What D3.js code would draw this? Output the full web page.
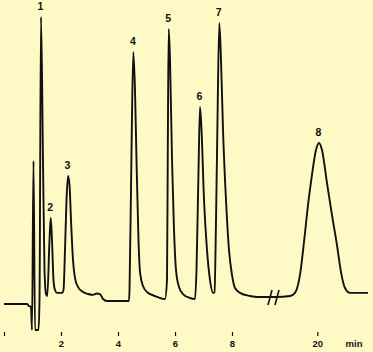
<!DOCTYPE html>
<html>
<head>
<meta charset="utf-8">
<script src="https://cdn.jsdelivr.net/npm/d3@7"></script>
<style>
  html, body { margin: 0; padding: 0; background: #fff9c6; }
  svg { display: block; }
  .axis text { font-family: "Liberation Sans", Arial, sans-serif; font-weight: bold; font-size: 9.5px; fill: #111; }
  .axis line { stroke: #111; stroke-width: 1.2; }
  .peak-label { font-family: "Liberation Sans", Arial, sans-serif; font-weight: bold; font-size: 10.5px; fill: #111; }
</style>
</head>
<body>
<div id="chart"></div>
<script>
// chromatogram trace (time in min, detector signal in arbitrary units)
const traceTime = [
  0, 0.807, 0.877, 0.947, 0.982, 1.035, 1.088, 1.211, 1.246, 1.298, 1.368, 1.421, 1.474, 1.519,
  1.596, 1.639, 1.684, 1.737, 1.789, 1.860, 2.035,
  2.088, 2.140, 2.193, 2.246, 2.298, 2.351, 2.421, 2.491, 2.596, 2.772, 2.947, 3.123, 3.263, 3.368, 3.474, 3.614, 4.386,
  4.404, 4.474, 4.537, 4.596, 4.649, 4.719, 4.772, 4.877, 5.018, 5.298, 5.649,
  5.719, 5.747, 5.779, 5.825, 5.895, 5.965, 6.035, 6.140, 6.281, 6.526, 6.702,
  6.754, 6.825, 6.877, 6.930, 7.018, 7.123, 7.228, 7.333, 7.386,
  7.439, 7.491, 7.554, 7.614, 7.684, 7.789, 7.895, 8.000, 8.105, 8.281, 8.632, 8.912, 9.333,
  18.551, 19.042, 19.218, 19.393, 19.568, 19.674, 19.814, 19.954, 20.060, 20.165, 20.340, 20.516, 20.691, 20.832, 20.972, 21.147, 21.779
];
const traceSignal = [
  -0.7, -0.7, -1.4, -1.75, -9.8, 49.5, -9.8, -9.8, 1.0, 100, 49.8, 11.2, 2.8, 2.1,
  21.75, 29.5, 21.75, 7.7, 4.2, 3.2, 3.2,
  4.2, 18.2, 35.8, 44.2, 41.1, 28.8, 14.7, 8.4, 5.3, 3.5, 2.8, 2.5, 3.0, 2.8, 1.05, 0.35, 0.35,
  4.2, 53.3, 87.7, 74.4, 49.8, 21.75, 10.5, 5.6, 3.5, 2.1, 1.05,
  7.7, 53.3, 95.8, 84.9, 49.8, 25.3, 11.2, 5.3, 2.8, 1.4, 1.05,
  11.2, 46.3, 68.4, 60.4, 35.8, 18.2, 7.7, 3.2, 3.5,
  28.8, 63.9, 97.9, 84.9, 60.4, 35.8, 18.2, 9.5, 4.9, 3.2, 2.1, 1.75, 1.75,
  1.75, 2.1, 3.2, 9.5, 24.2, 34.0, 44.6, 53.3, 55.8, 53.3, 41.8, 30.5, 20.0, 10.5, 4.9, 3.2, 3.2
];

// numbered peaks
const peakIds = ["1", "2", "3", "4", "5", "6", "7", "8"];
const peakTimes = [1.298, 1.639, 2.246, 4.537, 5.779, 6.877, 7.554, 20.06];
const peakHeights = [100, 29.5, 44.2, 87.7, 95.8, 68.4, 97.9, 55.8];

// time axis with a break between 9.3 and 18.55 min
const timeBreaks = [0, 9.333, 18.551, 21.78];
const tickTimes = [0, 2, 4, 6, 8, 20];
const signalRange = [-10, 100];

const width = 373, height = 352;

const svg = d3.select("#chart").append("svg")
  .attr("width", width)
  .attr("height", height);

svg.append("rect")
  .attr("width", width)
  .attr("height", height)
  .attr("fill", "#fff9c6");

// piecewise scale: two segments of the same min/px
const x = d3.scaleLinear().domain(timeBreaks).range([4, 270, 276, 368]);
const y = d3.scaleLinear().domain(signalRange).range([330.5, 17]);

const trace = traceTime.map((t, i) => ({ t, s: traceSignal[i] }));

const line = d3.line()
  .x(d => x(d.t))
  .y(d => y(d.s))
  .curve(d3.curveMonotoneX);

svg.append("path")
  .datum(trace)
  .attr("fill", "none")
  .attr("stroke", "#111")
  .attr("stroke-width", 1.9)
  .attr("stroke-linejoin", "round")
  .attr("d", line);

// axis break marks "//"
const breakY = y(1.75);
[x(timeBreaks[1]), x(timeBreaks[2]) + 1].forEach(bx => {
  svg.append("line")
    .attr("x1", bx - 2).attr("y1", breakY + 8)
    .attr("x2", bx + 2).attr("y2", breakY - 7)
    .attr("stroke", "#111")
    .attr("stroke-width", 1.6);
});

// bottom axis, ticks only
const axis = svg.append("g")
  .attr("class", "axis")
  .attr("transform", "translate(0,332)")
  .call(d3.axisBottom(x)
    .tickValues(tickTimes)
    .tickSize(4)
    .tickPadding(4.5)
    .tickFormat(d => d === 0 ? "" : d));
axis.select(".domain").remove();

axis.append("text")
  .attr("x", 354)
  .attr("y", 15)
  .attr("text-anchor", "middle")
  .text("min");

// peak numbers
svg.selectAll(".peak-label")
  .data(peakIds)
  .enter()
  .append("text")
  .attr("class", "peak-label")
  .attr("x", (d, i) => x(peakTimes[i]) - 0.5)
  .attr("y", (d, i) => y(peakHeights[i]) - 7)
  .attr("text-anchor", "middle")
  .text(d => d);
</script>
</body>
</html>
